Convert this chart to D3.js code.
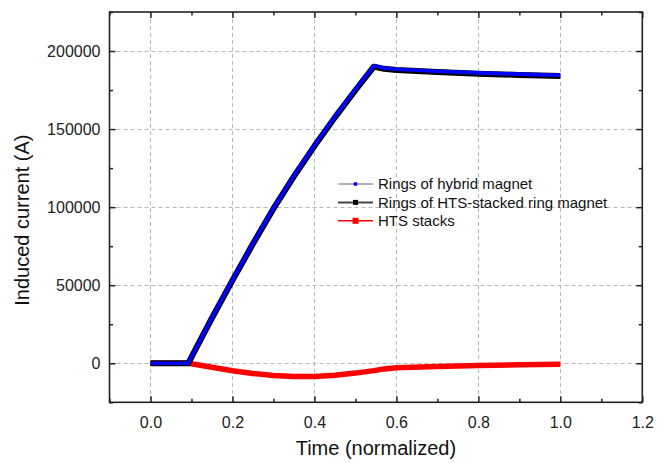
<!DOCTYPE html>
<html>
<head>
<meta charset="utf-8">
<script src="https://cdn.jsdelivr.net/npm/d3@7"></script>
<style>
  html, body { margin: 0; padding: 0; background: #fff; }
  svg { display: block; font-family: "Liberation Sans", Arial, sans-serif; }
</style>
</head>
<body>
<svg id="chart" width="665" height="463"></svg>
<script>
// Normalized time samples
const timeSteps = [0, 0.05, 0.092, 0.15, 0.2, 0.25, 0.3, 0.35, 0.4, 0.45, 0.5, 0.545, 0.57, 0.6, 0.7, 0.8, 0.9, 1.0];

// Induced current (A) per series
const hybridRings = [0, 0, 0, 29400, 53600, 77000, 99500, 120200, 139600, 158000, 175400, 190500, 189100, 188300, 187000, 186000, 185200, 184500];
const stackedRings = [0, 0, 0, 29000, 53100, 76500, 99000, 119700, 139100, 157500, 174900, 190000, 188600, 187800, 186500, 185500, 184700, 184000];
const htsStacks = [0, 0, 0, -2600, -4800, -6500, -7800, -8500, -8500, -7700, -6300, -4700, -3600, -2800, -2000, -1500, -1000, -700];

const seriesNames = ["Rings of hybrid magnet", "Rings of HTS-stacked ring magnet", "HTS stacks"];

// Axis ticks
const xTicks = [0.0, 0.2, 0.4, 0.6, 0.8, 1.0, 1.2];
const xMinorTicks = [-0.1, 0.1, 0.3, 0.5, 0.7, 0.9, 1.1];
const yTicks = [0, 50000, 100000, 150000, 200000];
const yMinorTicks = [-25000, 25000, 75000, 125000, 175000, 225000];

const svg = d3.select("#chart");
const plotLeft = 109.5, plotRight = 642.3, plotTop = 12, plotBottom = 402.3;

const x = d3.scaleLinear().domain([-0.1, 1.2]).range([plotLeft, plotRight]);
const y = d3.scaleLinear().domain([-25000, 225000]).range([plotBottom, plotTop]);

// Dashed grid
const grid = svg.append("g").attr("stroke", "#b8b8b8").attr("stroke-width", 1).attr("stroke-dasharray", "4,3");
grid.selectAll("line.gx").data(xTicks.filter(d => d < 1.2)).join("line")
  .attr("x1", d => Math.round(x(d)) + 0.5).attr("x2", d => Math.round(x(d)) + 0.5)
  .attr("y1", plotTop).attr("y2", plotBottom);
grid.selectAll("line.gy").data(yTicks).join("line")
  .attr("y1", d => Math.round(y(d)) + 0.5).attr("y2", d => Math.round(y(d)) + 0.5)
  .attr("x1", plotLeft).attr("x2", plotRight);

// Data lines
const line = vals => d3.line()
  .x((d, i) => x(timeSteps[i]))
  .y(d => y(d))(vals);

const plot = svg.append("g");
plot.append("path").attr("d", line(htsStacks))
  .attr("fill", "none").attr("stroke", "#ff0000").attr("stroke-width", 5.5).attr("stroke-linejoin", "round");
plot.append("path").attr("d", line(stackedRings))
  .attr("fill", "none").attr("stroke", "#000000").attr("stroke-width", 6).attr("stroke-linejoin", "round");
plot.append("path").attr("d", line(hybridRings))
  .attr("fill", "none").attr("stroke", "#0000ff").attr("stroke-width", 3.6).attr("stroke-linejoin", "round");

// Axes: ticks inward on all four sides
const axisColor = "#222";
const gBottom = svg.append("g").attr("transform", `translate(0,${plotBottom})`)
  .call(d3.axisBottom(x).tickValues(xTicks).tickSize(-6).tickPadding(14).tickFormat(d3.format(".1f")));
const gBottomMinor = svg.append("g").attr("transform", `translate(0,${plotBottom})`)
  .call(d3.axisBottom(x).tickValues(xMinorTicks).tickSize(-3.5).tickFormat(""));
const gTop = svg.append("g").attr("transform", `translate(0,${plotTop})`)
  .call(d3.axisTop(x).tickValues(xTicks).tickSize(-6).tickFormat(""));
const gTopMinor = svg.append("g").attr("transform", `translate(0,${plotTop})`)
  .call(d3.axisTop(x).tickValues(xMinorTicks).tickSize(-3.5).tickFormat(""));
const gLeft = svg.append("g").attr("transform", `translate(${plotLeft},0)`)
  .call(d3.axisLeft(y).tickValues(yTicks).tickSize(-6).tickPadding(9).tickFormat(d3.format("d")));
const gLeftMinor = svg.append("g").attr("transform", `translate(${plotLeft},0)`)
  .call(d3.axisLeft(y).tickValues(yMinorTicks).tickSize(-3.5).tickFormat(""));
const gRight = svg.append("g").attr("transform", `translate(${plotRight},0)`)
  .call(d3.axisRight(y).tickValues(yTicks).tickSize(-6).tickFormat(""));
const gRightMinor = svg.append("g").attr("transform", `translate(${plotRight},0)`)
  .call(d3.axisRight(y).tickValues(yMinorTicks).tickSize(-3.5).tickFormat(""));

[gBottom, gBottomMinor, gTop, gTopMinor, gLeft, gLeftMinor, gRight, gRightMinor].forEach(g => {
  g.select(".domain").remove();
  g.selectAll(".tick line").attr("stroke", axisColor).attr("stroke-width", 1.5);
  g.selectAll(".tick text").attr("fill", "#222").style("font-size", "16px")
    .style("font-family", "'Liberation Sans', Arial, sans-serif");
});

// Frame
svg.append("rect").attr("x", plotLeft).attr("y", plotTop)
  .attr("width", plotRight - plotLeft).attr("height", plotBottom - plotTop)
  .attr("fill", "none").attr("stroke", axisColor).attr("stroke-width", 1.6);

// Axis titles
svg.append("text").attr("x", (plotLeft + plotRight) / 2).attr("y", 455)
  .attr("text-anchor", "middle").attr("fill", "#111").style("font-size", "20px")
  .text("Time (normalized)");
svg.append("text").attr("transform", `translate(29,${(plotTop + plotBottom) / 2 + 13}) rotate(-90)`)
  .attr("text-anchor", "middle").attr("fill", "#111").style("font-size", "20px")
  .text("Induced current (A)");

// Legend
const legend = svg.append("g").attr("transform", "translate(338,184)");
const legendStyles = [
  { line: "#9a9a9a", lw: 1.5, marker: "circle", mc: "#0000ff", ms: 2 },
  { line: "#444444", lw: 2, marker: "square", mc: "#000000", ms: 5 },
  { line: "#ff0000", lw: 1.6, marker: "square", mc: "#ff0000", ms: 6 }
];
seriesNames.forEach((name, i) => {
  const row = legend.append("g").attr("transform", `translate(0,${i * 18.4})`);
  const s = legendStyles[i];
  row.append("line").attr("x1", 0).attr("x2", 35).attr("y1", 0).attr("y2", 0)
    .attr("stroke", s.line).attr("stroke-width", s.lw);
  if (s.marker === "circle") {
    row.append("circle").attr("cx", 17.5).attr("cy", 0).attr("r", s.ms).attr("fill", s.mc);
  } else {
    row.append("rect").attr("x", 17.5 - s.ms / 2).attr("y", -s.ms / 2)
      .attr("width", s.ms).attr("height", s.ms).attr("fill", s.mc);
  }
  row.append("text").attr("x", 40).attr("y", 5.3).attr("fill", "#111")
    .style("font-size", "15px").text(name);
});
</script>
</body>
</html>
